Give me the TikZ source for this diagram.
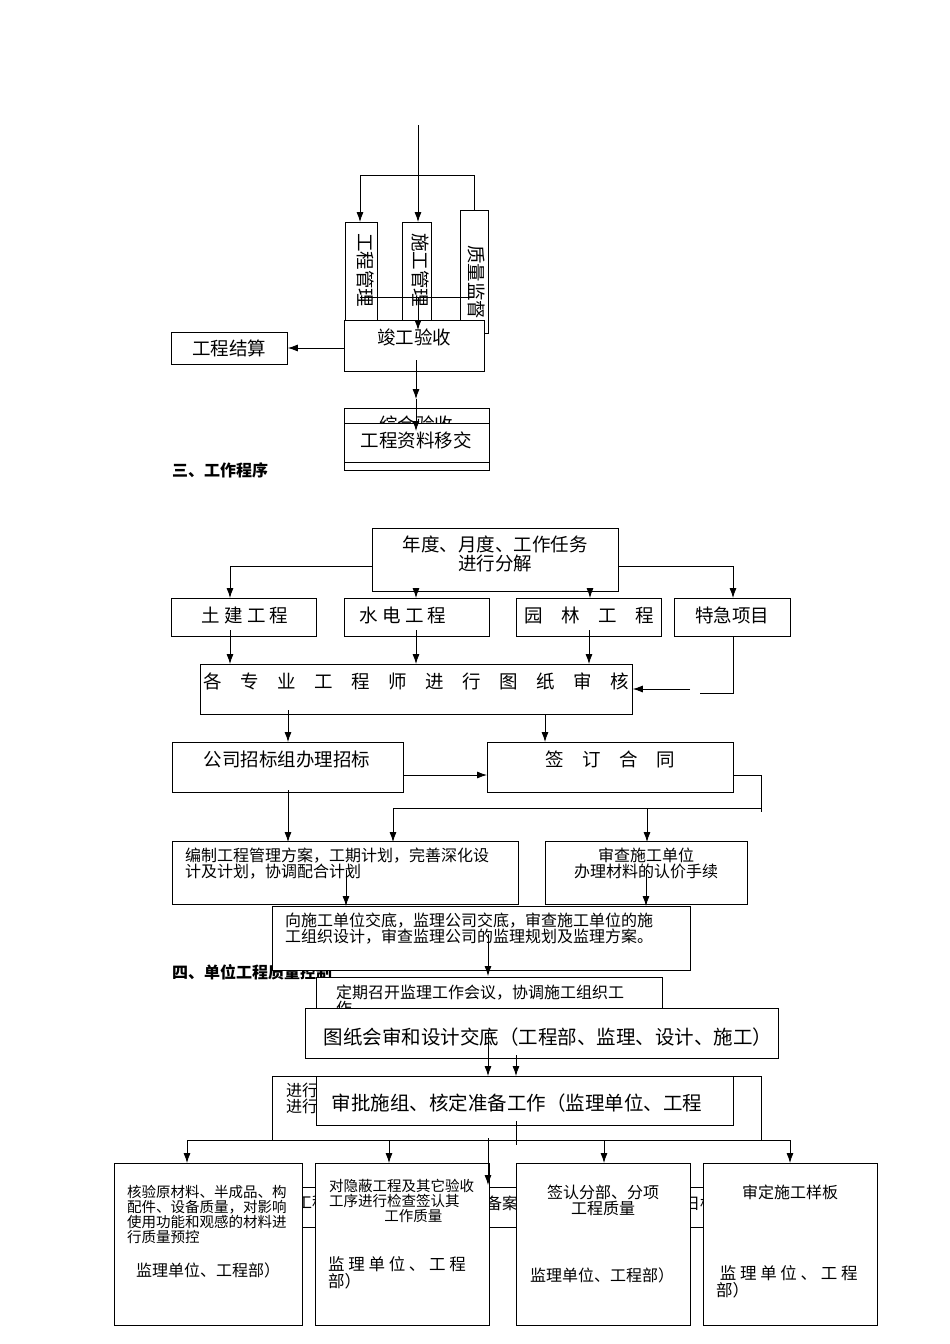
\documentclass[tikz,border=0pt]{standalone}
\usepackage{fontspec}
\setmainfont{Noto Sans CJK SC}
\usetikzlibrary{arrows.meta}
\begin{document}
\begin{tikzpicture}[x=1pt,y=-1pt,
  bx/.style={draw,line width=0.8pt,fill=white},
  ar/.style={-{Latex[length=10pt,width=7pt]},line width=0.8pt},
  ln/.style={line width=0.8pt},
  t/.style={font=\fontsize{18.5}{19}\selectfont,inner sep=0pt},
  s/.style={font=\fontsize{16}{16}\selectfont,inner sep=0pt,align=left},
  hd/.style={font=\fontsize{16}{16}\selectfont\bfseries,inner sep=0pt,anchor=west}]
\useasboundingbox[fill=white] (0,0) rectangle (950,1344);
% ---- top part
\draw[ln] (418,125) -- (418,175);
\draw[ln] (360,175) -- (474,175);
\draw[ar] (360,175) -- (360,222);
\draw[ar] (418,175) -- (418,222);
\draw[ar] (474,175) -- (474,222);
\node[bx,minimum width=32pt,minimum height=98pt,anchor=north west] (g1) at (345,222) {};
\node[bx,minimum width=29pt,minimum height=98pt,anchor=north west] (g2) at (402,222) {};
\node[bx,minimum width=28pt,minimum height=123pt,anchor=north west] (g3) at (460,210) {};
\begin{scope}
\clip (345,222) rectangle (377,320);
\node[t,rotate=-90] (g1t) at (366,270) {工程管理};
\end{scope}
\begin{scope}
\clip (402,222) rectangle (431,320);
\node[t,rotate=-90] (g2t) at (421,270) {施工管理};
\end{scope}
\node[t,rotate=-90] (g3t) at (477,282) {质量监督};
\draw[ln] (360,297) -- (474,297);
\node[bx,minimum width=140pt,minimum height=51pt,anchor=north west] (jg) at (344,320) {};
\node[t] (jgt) at (414,337) {竣工验收};
\draw[ar] (418,297) -- (418,330);
\node[bx,minimum width=116pt,minimum height=32pt,anchor=north west] (js) at (171,332) {};
\node[t] (jst) at (229,348) {工程结算};
\draw[ar] (jg.west |- 0,348) -- (js.east |- 0,348);
\node[bx,minimum width=145pt,minimum height=62pt,anchor=north west] (zh) at (344,408) {};
\begin{scope}
\clip (344,408) rectangle (489,423);
\node[t] at (416,424) {综合验收};
\end{scope}
\node[bx,minimum width=145pt,minimum height=39pt,anchor=north west] (zl) at (344,423) {};
\node[t] (zlt) at (416,440) {工程资料移交};
\draw[ar] (416,360) -- (416,399);
\draw[ar] (416,399) -- (416,431);
\node[hd] (h3) at (172,470) {三、工作程序};
% ---- section 2
\node[bx,minimum width=246pt,minimum height=63pt,anchor=north west] (nd) at (372,528) {};
\node[t,align=center] (ndt) at (495,554) {年度、月度、工作任务\\进行分解};
\draw[ln] (372,566) -- (230,566); \draw[ar] (230,566) -- (230,598);
\draw[ln] (618,566) -- (733,566); \draw[ar] (733,566) -- (733,598);
\draw[ar] (416,591) -- (416,598);
\draw[ar] (590,591) -- (590,598);
\node[bx,minimum width=145pt,minimum height=38pt,anchor=north west] (tj) at (171,598) {};
\node[t] at (245,615) {土\ 建\ 工\ 程};
\node[bx,minimum width=145pt,minimum height=38pt,anchor=north west] (sd) at (344,598) {};
\node[t] at (403,615) {水\ 电\ 工\ 程};
\node[bx,minimum width=145pt,minimum height=38pt,anchor=north west] (yl) at (516,598) {};
\node[t] at (589,615) {园\quad 林\quad 工\quad 程};
\node[bx,minimum width=116pt,minimum height=38pt,anchor=north west] (tjx) at (674,598) {};
\node[t] at (732,615) {特急项目};
\draw[ar] (230,630) -- (230,664);
\draw[ar] (416,630) -- (416,664);
\draw[ar] (589,630) -- (589,664);
\node[bx,minimum width=432pt,minimum height=50pt,anchor=north west] (gz) at (200,664) {};
\node[t] at (416,681) {各\quad 专\quad 业\quad 工\quad 程\quad 师\quad 进\quad 行\quad 图\quad 纸\quad 审\quad 核};
\draw[ln] (tjx.south -| 733,0) -- (733,693) -- (700,693);
\draw[ar] (690,689) -- (gz.east |- 0,689);
\draw[ar] (288,710) -- (288,742);
\draw[ar] (545,714) -- (545,742);
\node[bx,minimum width=231pt,minimum height=50pt,anchor=north west] (zb) at (172,742) {};
\node[t] at (287,759) {公司招标组办理招标};
\node[bx,minimum width=246pt,minimum height=50pt,anchor=north west] (qd) at (487,742) {};
\node[t] at (610,759) {签\quad 订\quad 合\quad 同};
\draw[ar] (zb.east |- 0,775) -- (qd.west |- 0,775);
\draw[ln] (qd.east |- 0,775) -- (761,775) -- (761,812);
\draw[ln] (761,808) -- (393,808);
\draw[ar] (393,808) -- (393,842);
\draw[ar] (647,808) -- (647,842);
\draw[ar] (288,790) -- (288,842);
\node[bx,minimum width=346pt,minimum height=63pt,anchor=north west] (bz) at (172,841) {};
\node[s,anchor=north west] at (185,848) {编制工程管理方案，工期计划，完善深化设\\计及计划，协调配合计划};
\node[bx,minimum width=202pt,minimum height=63pt,anchor=north west] (sc) at (545,841) {};
\node[s,align=center,anchor=north] at (646,848) {审查施工单位\\办理材料的认价手续};
\draw[ar] (346,870) -- (346,906);
\draw[ar] (646,870) -- (646,906);
\node[hd] (h4) at (172,972) {四、单位工程质量控制};
\node[bx,minimum width=418pt,minimum height=64pt,anchor=north west] (xs) at (272,906) {};
\node[s,anchor=north west] at (285,913) {向施工单位交底，监理公司交底，审查施工单位的施\\工组织设计，审查监理公司的监理规划及监理方案。};
\draw[ar] (488,934) -- (488,976);
\node[bx,minimum width=346pt,minimum height=40pt,anchor=north west] (dq) at (316,977) {};
\node[s,anchor=north west] at (336,985) {定期召开监理工作会议，协调施工组织工\\作};
\node[bx,minimum width=473pt,minimum height=50pt,anchor=north west] (tz) at (305,1008) {};
\node[t,font=\fontsize{19.5}{20}\selectfont] at (548,1037) {图纸会审和设计交底（工程部、监理、设计、施工）};
\draw[ar] (488,1030) -- (488,1076);
\draw[ar] (516,1055) -- (516,1076);
\node[bx,minimum width=489pt,minimum height=64pt,anchor=north west] (jx) at (272,1076) {};
\node[s,anchor=north west] at (286,1083) {进行\\进行};
\node[bx,minimum width=417pt,minimum height=49pt,anchor=north west] (sp) at (316,1076) {};
\node[t,font=\fontsize{19.5}{20}\selectfont] at (517,1103) {审批施组、核定准备工作（监理单位、工程};
\draw[ln] (516,1121) -- (516,1145);
\draw[ln] (187,1140) -- (790,1140);
% back box
\node[bx,minimum width=401pt,minimum height=40pt,anchor=north west] (bk) at (302,1187) {};
\node[s] at (312,1203) {工程};
\node[s] at (502,1203) {备案};
\node[s] at (700,1203) {日标};
\draw[ar] (187,1140) -- (187,1163);
\draw[ar] (389,1140) -- (389,1163);
\draw[ar] (604,1140) -- (604,1163);
\draw[ar] (790,1140) -- (790,1163);
\node[bx,minimum width=188pt,minimum height=162pt,anchor=north west] (b1) at (114,1163) {};
\node[bx,minimum width=174pt,minimum height=162pt,anchor=north west] (b2) at (315,1163) {};
\node[bx,minimum width=174pt,minimum height=162pt,anchor=north west] (b3) at (516,1163) {};
\node[bx,minimum width=174pt,minimum height=162pt,anchor=north west] (b4) at (703,1163) {};
\draw[ar] (488,1138) -- (488,1185);
\node[s,anchor=north west,font=\fontsize{14.5}{15}\selectfont] at (127,1185) {核验原材料、半成品、构\\配件、设备质量，对影响\\使用功能和观感的材料进\\行质量预控};
\node[s,anchor=west] at (136,1270) {监理单位、工程部）};
\node[s,anchor=north west,font=\fontsize{14.5}{15}\selectfont] at (329,1179) {对隐蔽工程及其它验收\\工序进行检查签认其\\\hspace*{3.8em}工作质量};
\node[s,anchor=north west,font=\fontsize{16.5}{17}\selectfont] at (328,1256) {监\ 理\ 单\ 位\ 、\ 工\ 程\\部）};
\node[s,align=center,anchor=north] at (603,1185) {签认分部、分项\\工程质量};
\node[s,anchor=west] at (530,1275) {监理单位、工程部）};
\node[s,anchor=north] at (790,1185) {审定施工样板};
\node[s,anchor=north west,font=\fontsize{16.5}{17}\selectfont] at (716,1265) {\ 监\ 理\ 单\ 位\ 、\ 工\ 程\\部）};
\end{tikzpicture}
\end{document}
